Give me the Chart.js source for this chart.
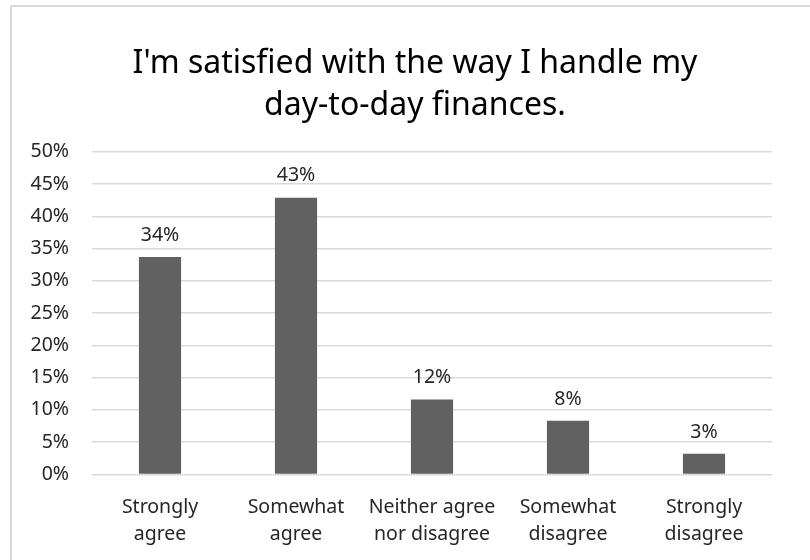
<!DOCTYPE html>
<html>
<head>
<meta charset="utf-8">
<script src="https://cdn.jsdelivr.net/npm/chart.js@4/dist/chart.umd.min.js"></script>
<style>
  html, body { margin: 0; padding: 0; background: #fff; }
  #frame {
    position: absolute; left: 10px; top: 5px;
    width: 820px; height: 580px;
    border: 2px solid #d9d9d9;
  }
  #wrap { position: absolute; left: 0; top: 0; width: 810px; height: 560px; }
</style>
</head>
<body>
<div id="frame"></div>
<div id="wrap"><canvas id="surveyChart"></canvas></div>
<script>
const FONT = "'Noto Sans', sans-serif";

let titleLines = ["I'm satisfied with the way I handle my", "day-to-day finances."];
let answers = [
  ["Strongly", "agree"],
  ["Somewhat", "agree"],
  ["Neither agree", "nor disagree"],
  ["Somewhat", "disagree"],
  ["Strongly", "disagree"],
];
let shares = [33.7, 42.9, 11.6, 8.3, 3.2];
let yTicks = [0, 5, 10, 15, 20, 25, 30, 35, 40, 45, 50];

// writes the rounded percentage above every bar
const barValues = {
  id: "barValues",
  afterDatasetsDraw(chart) {
    const ctx = chart.ctx;
    const meta = chart.getDatasetMeta(0);
    ctx.save();
    ctx.font = "19.5px " + FONT;
    ctx.fillStyle = "#262626";
    ctx.textAlign = "center";
    ctx.textBaseline = "bottom";
    meta.data.forEach((bar, i) => {
      ctx.fillText(Math.round(shares[i]) + "%", bar.x, bar.y - 12);
    });
    ctx.restore();
  },
};

const ctx = document.getElementById("surveyChart").getContext("2d");
const myChart = new Chart(ctx, {
  type: "bar",
  data: {
    labels: answers,
    datasets: [
      {
        data: shares,
        backgroundColor: "#616161",
        borderWidth: 0,
        categoryPercentage: 1,
        barPercentage: 0.31,
      },
    ],
  },
  options: {
    responsive: true,
    maintainAspectRatio: false,
    animation: false,
    layout: { padding: { left: 22, right: 2, top: 0, bottom: 1 } },
    scales: {
      x: {
        grid: { display: false },
        border: { display: false },
        ticks: {
          color: "#262626",
          font: { family: FONT, size: 19.5, lineHeight: 1.4 },
          maxRotation: 0,
          padding: 11,
        },
      },
      y: {
        min: 0,
        max: 50,
        afterFit(scale) { scale.width = 70; },
        afterBuildTicks(scale) { scale.ticks = yTicks.map((v) => ({ value: v })); },
        grid: { color: "#d9d9d9", lineWidth: 1.5, drawTicks: false },
        border: { display: false },
        ticks: {
          color: "#262626",
          font: { family: FONT, size: 19.5 },
          padding: 23,
          callback: (v) => v + "%",
        },
      },
      // empty right-hand strip: keeps the plot narrow while the title centres further right
      spacer: {
        type: "linear",
        position: "right",
        afterFit(scale) { scale.width = 36; },
        grid: { display: false },
        border: { display: false },
        ticks: { display: false },
      },
    },
    plugins: {
      legend: { display: false },
      tooltip: { enabled: false },
      title: {
        display: true,
        text: titleLines,
        color: "#000",
        font: { family: FONT, size: 32, weight: "normal", lineHeight: 1.31 },
        padding: { top: 43, bottom: 25 },
      },
    },
  },
  plugins: [barValues],
});
</script>
</body>
</html>
